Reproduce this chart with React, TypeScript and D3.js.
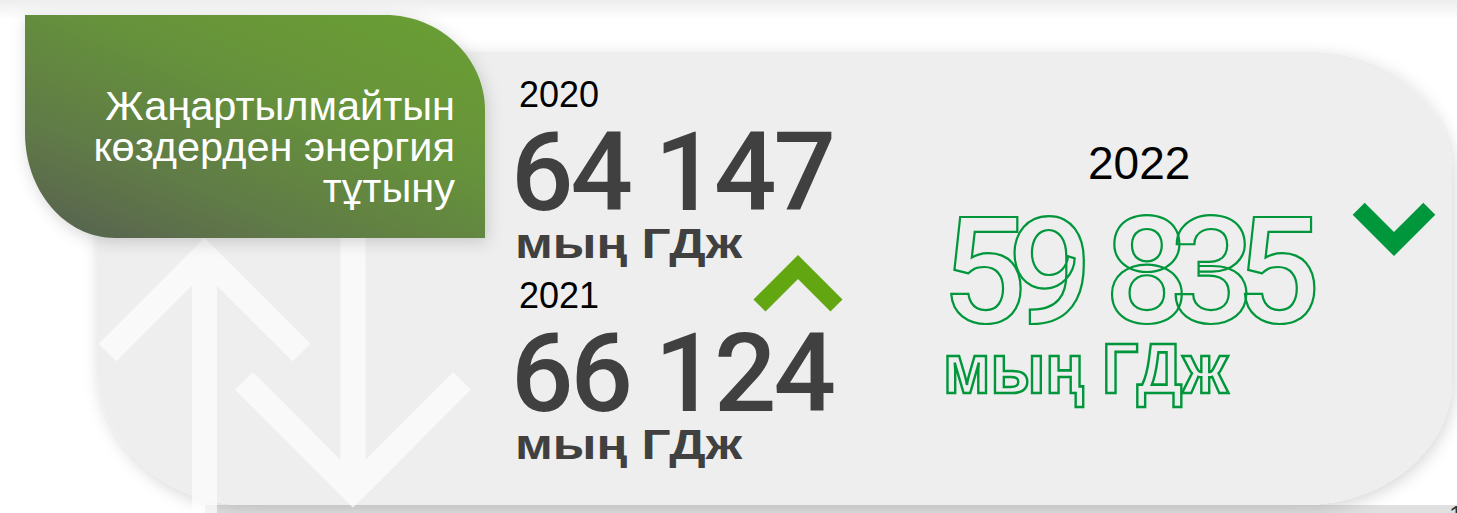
import React from "react";
import * as d3 from "d3";

// ---- data ----
const years = ["2020", "2021", "2022"];
const values = [64147, 66124, 59835];
const unitLabel = "мың ГДж";
const titleLines = ["Жаңартылмайтын", "көздерден энергия", "тұтыну"];
const trends = ["up", "down"]; // 2021 vs 2020, 2022 vs 2021
const pageNumber = "1";

const W = 1457;
const H = 513;

const fmt = d3
  .formatLocale({ decimal: ",", thousands: " ", grouping: [3], currency: ["", ""] })
  .format(",d");

// vertical offset of the stacked left-column rows
const rowY = d3.scaleLinear().domain([0, 1]).range([0, 201]);

const line = d3.line<[number, number]>();

// chevron centre-line: apex + half-width
function chevron(cx: number, cy: number, half: number, dir: "up" | "down") {
  const s = dir === "up" ? 1 : -1;
  return line([
    [cx - half, cy + s * half],
    [cx, cy],
    [cx + half, cy + s * half],
  ]);
}

function roundedPanel(x0: number, y0: number, x1: number, y1: number) {
  const p = d3.path();
  p.moveTo(x0 + 20, y0);
  p.lineTo(x1 - 140, y0);
  p.bezierCurveTo(x1 - 140 + 77, y0, x1, y0 + 121 - 67, x1, y0 + 121);
  p.lineTo(x1, y1 - 125);
  p.bezierCurveTo(x1, y1 - 125 + 69, x1 - 150 + 83, y1, x1 - 150, y1);
  p.lineTo(x0 + 150, y1);
  p.bezierCurveTo(x0 + 150 - 83, y1, x0, y1 - 140 + 77, x0, y1 - 140);
  p.lineTo(x0, y0 + 20);
  p.quadraticCurveTo(x0, y0, x0 + 20, y0);
  p.closePath();
  return p.toString();
}

function tabPath(x0: number, y0: number, x1: number, y1: number) {
  const p = d3.path();
  p.moveTo(x0, y0);
  p.lineTo(x1 - 100, y0);
  p.bezierCurveTo(x1 - 100 + 55, y0, x1, y0 + 95 - 52, x1, y0 + 95);
  p.lineTo(x1, y1);
  p.lineTo(x0 + 90, y1);
  p.bezierCurveTo(x0 + 90 - 50, y1, x0, y1 - 105 + 58, x0, y1 - 105);
  p.closePath();
  return p.toString();
}

export default function App() {
  const panelD = roundedPanel(97, 52, 1452, 505);
  const tabD = tabPath(25, 15, 485, 238);

  return (
    <svg
      width={W}
      height={H}
      viewBox={`0 0 ${W} ${H}`}
      style={{ position: "absolute", left: 0, top: 0, display: "block", background: "#ffffff" }}
    >
      <defs>
        <linearGradient id="tabGrad" x1="0" y1="1" x2="0.85" y2="0">
          <stop offset="0" stopColor="#565f52" />
          <stop offset="0.3" stopColor="#607a47" />
          <stop offset="0.65" stopColor="#66923b" />
          <stop offset="1" stopColor="#699d34" />
        </linearGradient>
        <linearGradient id="topShade" x1="0" y1="0" x2="0" y2="1">
          <stop offset="0" stopColor="#eeeeee" />
          <stop offset="1" stopColor="#ffffff" />
        </linearGradient>
        <filter id="soft" x="-10%" y="-10%" width="120%" height="130%">
          <feDropShadow dx="2" dy="4" stdDeviation="8" floodColor="#000" floodOpacity="0.16" />
        </filter>
      </defs>

      <rect x={0} y={0} width={W} height={H} fill="#ffffff" />
      <rect x={0} y={0} width={W} height={20} fill="url(#topShade)" />

      {/* strip below the panel */}
      <rect x={205} y={505} width={W - 205} height={10} fill="#e0e0e0" />

      {/* main panel */}
      <path d={panelD} fill="#edeeed" filter="url(#soft)" />

      {/* background arrows */}
      <g opacity={0.7} stroke="#ffffff" strokeWidth={25} fill="none" strokeLinejoin="miter">
        <line x1={204.5} y1={256} x2={204.5} y2={H + 10} />
        <path d={chevron(204.5, 255.5, 97, "up") ?? ""} />
        <line x1={353} y1={200} x2={353} y2={489} />
        <path d={chevron(353, 490, 109, "down") ?? ""} />
      </g>

      {/* green title tab */}
      <path d={tabD} fill="url(#tabGrad)" filter="url(#soft)" />
      <g fontFamily="'Liberation Sans', Arial, sans-serif" fontSize={41.5} fill="#ffffff" textAnchor="end">
        {titleLines.map((t, i) => (
          <text key={t} x={455} y={120 + i * 41}>
            {t}
          </text>
        ))}
      </g>

      {/* 2020 & 2021 */}
      {[0, 1].map((i) => (
        <g key={years[i]} transform={`translate(0,${rowY(i)})`}>
          <text
            x={519}
            y={107}
            fontFamily="'Liberation Sans', Arial, sans-serif"
            fontSize={36}
            fill="#000000"
          >
            {years[i]}
          </text>
          <text
            x={511}
            y={210}
            fontFamily="Roboto, sans-serif"
            fontWeight={500}
            fontSize={110}
            fill="#404040"
            textLength={325}
            lengthAdjust="spacing"
          >
            {fmt(values[i])}
          </text>
          <text
            x={515}
            y={258}
            fontFamily="'Liberation Sans', Arial, sans-serif"
            fontWeight={700}
            fontSize={42}
            fill="#404040"
            textLength={227}
            lengthAdjust="spacingAndGlyphs"
          >
            {unitLabel}
          </text>
        </g>
      ))}

      {/* 2022 */}
      <text x={1088} y={179} fontFamily="'Liberation Sans', Arial, sans-serif" fontSize={46} fill="#000000">
        {years[2]}
      </text>
      <text
        x={942}
        y={323}
        fontFamily="Roboto, sans-serif"
        fontWeight={500}
        fontSize={149}
        fill="none"
        stroke="#00963c"
        strokeWidth={2.2}
        letterSpacing={-19}
        wordSpacing={13}
      >
        {fmt(values[2])}
      </text>
      <text
        x={943}
        y={393}
        fontFamily="'Liberation Sans', Arial, sans-serif"
        fontWeight={700}
        fontSize={70}
        fill="none"
        stroke="#00963c"
        strokeWidth={2.6}
        textLength={285}
        lengthAdjust="spacingAndGlyphs"
      >
        {unitLabel}
      </text>

      {/* trend chevrons */}
      <path
        d={chevron(798, 267, 38.5, trends[0] as "up") ?? ""}
        fill="none"
        stroke="#62a612"
        strokeWidth={17}
        strokeLinejoin="miter"
      />
      <path
        d={chevron(1394, 244, 35.3, trends[1] as "down") ?? ""}
        fill="none"
        stroke="#00963c"
        strokeWidth={17}
        strokeLinejoin="miter"
      />

      <text x={1449} y={524} fontFamily="'Liberation Sans', Arial, sans-serif" fontSize={26} fill="#333333">
        {pageNumber}
      </text>
    </svg>
  );
}
